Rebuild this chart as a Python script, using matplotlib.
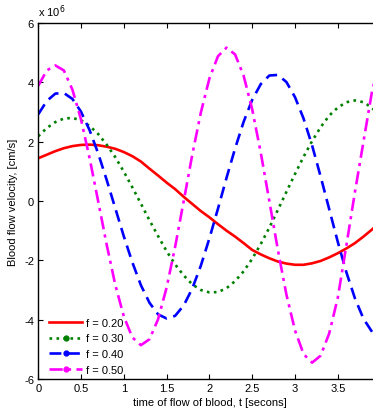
import matplotlib
matplotlib.use("Agg")
import matplotlib.pyplot as plt
from matplotlib.lines import Line2D

plt.rcParams['font.family'] = ['Liberation Sans', 'DejaVu Sans']
plt.rcParams['axes.unicode_minus'] = False

# time axis (seconds)
t = [0.0, 0.1, 0.2, 0.3, 0.4, 0.5, 0.6, 0.7, 0.8, 0.9,
     1.0, 1.1, 1.2, 1.3, 1.4, 1.5, 1.6, 1.7, 1.8, 1.9,
     2.0, 2.1, 2.2, 2.3, 2.4, 2.5, 2.6, 2.7, 2.8, 2.9,
     3.0, 3.1, 3.2, 3.3, 3.4, 3.5, 3.6, 3.7, 3.8, 3.9, 4.0]

# velocities in units of 1e6 cm/s
v_f020 = [1.44, 1.56, 1.68, 1.78, 1.85, 1.89, 1.90, 1.88, 1.83, 1.76,
          1.65, 1.51, 1.33, 1.09, 0.86, 0.62, 0.40, 0.14, -0.10, -0.34,
          -0.55, -0.78, -1.00, -1.20, -1.42, -1.65, -1.80, -1.93, -2.04, -2.11,
          -2.15, -2.15, -2.10, -2.02, -1.90, -1.76, -1.60, -1.42, -1.20, -0.96, -0.70]
v_f030 = [2.18, 2.46, 2.66, 2.78, 2.80, 2.72, 2.53, 2.26, 1.90, 1.48,
          0.99, 0.46, -0.09, -0.65, -1.18, -1.69, -2.14, -2.51, -2.81, -3.00,
          -3.08, -3.07, -2.94, -2.70, -2.37, -1.95, -1.45, -0.90, -0.30, 0.31,
          0.91, 1.49, 2.02, 2.49, 2.88, 3.15, 3.33, 3.39, 3.33, 3.14, 2.85]
v_f040 = [2.92, 3.37, 3.62, 3.64, 3.44, 3.01, 2.39, 1.61, 0.71, -0.24,
          -1.19, -2.07, -2.84, -3.43, -3.82, -3.96, -3.87, -3.52, -2.95, -2.18,
          -1.26, -0.26, 0.78, 1.77, 2.67, 3.41, 3.94, 4.23, 4.25, 4.01,
          3.50, 2.78, 1.87, 0.82, -0.28, -1.38, -2.40, -3.28, -3.97, -4.41, -4.58]
v_f050 = [3.88, 4.40, 4.57, 4.40, 3.75, 2.75, 1.45, 0.0, -1.47, -2.82,
          -3.89, -4.60, -4.86, -4.66, -3.99, -2.92, -1.54, 0.0, 1.56, 2.98,
          4.13, 4.88, 5.17, 4.94, 4.22, 3.09, 1.63, 0.0, -1.65, -3.16,
          -4.36, -5.16, -5.45, -5.21, -4.46, -3.26, -1.50, 0.30, 2.00, 3.70, 4.80]

labels = ['f = 0.20', 'f = 0.30', 'f = 0.40', 'f = 0.50']
colors = ['#ff0000', '#008000', '#0000ff', '#ff00ff']
styles = ['-', ':', (0, (4.5, 2.5)), (0, (5, 2, 1.2, 2))]
markers = [None, 'o', 'o', 'o']
xticks = [0, 0.5, 1, 1.5, 2, 2.5, 3, 3.5]
xticklabels = ['0', '0.5', '1', '1.5', '2', '2.5', '3', '3.5']
yticks = [-6, -4, -2, 0, 2, 4, 6]

fig = plt.figure(figsize=(3.73, 4.10), dpi=100)
ax = fig.add_axes([38.2 / 373, 30 / 410, 342.4 / 373, 356 / 410])

series = [v_f020, v_f030, v_f040, v_f050]
handles = []
for vals, c, ls, mk, lab in zip(series, colors, styles, markers, labels):
    ax.plot(t, vals, color=c, linestyle=ls, linewidth=1.9)
    handles.append(Line2D([0], [0], color=c, linestyle=ls, linewidth=1.9,
                          marker=mk, markersize=3.5, label=lab))

ax.set_xlim(0, 4)
ax.set_ylim(-6, 6)
ax.set_xticks(xticks)
ax.set_xticklabels(xticklabels)
ax.set_yticks(yticks)
ax.tick_params(direction='in', top=True, right=True, length=3.5, width=0.8,
               labelsize=8, pad=3)
for s in ax.spines.values():
    s.set_linewidth(1.0)

ax.set_xlabel('time of flow of blood, t [secons]', fontsize=8, labelpad=3)
ax.set_ylabel('Blood flow velocity, [cm/s]', fontsize=8, labelpad=4)
ax.text(0.0, 1.012, r'x 10$^{6}$', transform=ax.transAxes, fontsize=8,
        ha='left', va='bottom')

leg = ax.legend(handles=handles, loc='lower left', frameon=False, fontsize=8,
                handlelength=2.9, handletextpad=0.35, labelspacing=0.5,
                borderaxespad=0.0, bbox_to_anchor=(0.02, 0.0))

fig.savefig('out.png', dpi=100)
